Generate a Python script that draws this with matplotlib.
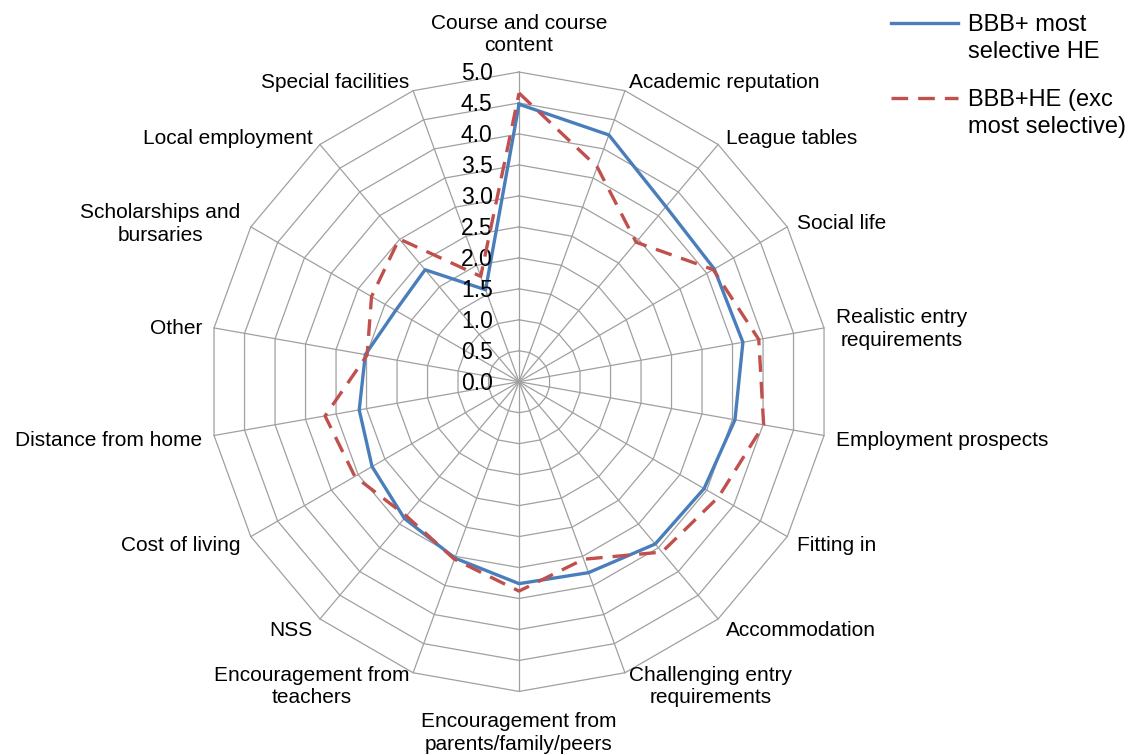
import matplotlib.pyplot as plt
import numpy as np
from matplotlib.lines import Line2D

plt.rcParams['font.family'] = ['Liberation Sans', 'DejaVu Sans']

# Factors, clockwise from the top
categories = [
    'Course and course\ncontent', 'Academic reputation', 'League tables',
    'Social life', 'Realistic entry\nrequirements', 'Employment prospects',
    'Fitting in', 'Accommodation', 'Challenging entry\nrequirements',
    'Encouragement from\nparents/family/peers', 'Encouragement from\nteachers',
    'NSS', 'Cost of living', 'Distance from home', 'Other',
    'Scholarships and\nbursaries', 'Local employment', 'Special facilities',
]
most_selective = [4.48, 4.24, 3.69, 3.64, 3.67, 3.54, 3.45, 3.42, 3.28,
                  3.26, 3.03, 2.88, 2.74, 2.62, 2.52, 2.30, 2.36, 1.58]
exc_most_selective = [4.66, 3.69, 2.94, 3.62, 3.93, 4.01, 3.72, 3.59, 3.05,
                      3.38, 3.05, 2.83, 3.06, 3.18, 2.49, 2.75, 3.01, 1.81]
rings = [0.0, 0.5, 1.0, 1.5, 2.0, 2.5, 3.0, 3.5, 4.0, 4.5, 5.0]
series_names = ['BBB+ most\nselective HE', 'BBB+HE (exc\nmost selective)']

blue = '#4A7EBB'
red = '#C0504D'
grid_col = '#a0a0a0'

n = len(categories)
theta = np.arange(n) * 2 * np.pi / n


def closed(v):
    return np.append(v, v[0])


fig = plt.figure(figsize=(11.35, 7.55), dpi=100)
ax = fig.add_axes([0.1844, 0.0842, 0.5458, 0.8204], projection='polar')
ax.set_theta_zero_location('N')
ax.set_theta_direction(-1)
ax.set_ylim(0, 5)
ax.grid(False)
ax.spines['polar'].set_visible(False)
ax.set_xticks([])
ax.set_yticks([])

# polygon web
for r in rings[1:]:
    ax.plot(closed(theta), np.full(n + 1, r), color=grid_col, lw=0.9,
            zorder=1, clip_on=False)
for t in theta:
    ax.plot([t, t], [0, 5], color=grid_col, lw=0.9, zorder=1, clip_on=False)

ax.plot(closed(theta), closed(most_selective), color=blue, lw=2.4,
        zorder=3, clip_on=False)
ax.plot(closed(theta), closed(exc_most_selective), color=red, lw=2.4,
        dashes=(5, 3), zorder=4, clip_on=False)

# radial value labels along the top spoke
for r in rings:
    ax.annotate(f'{r:.1f}', xy=(0, r), xytext=(-19, -1),
                textcoords='offset points', ha='right', va='center',
                fontsize=16.5)

# category labels just outside the outer ring
pad = 8.5
for t, lab in zip(theta, categories):
    s, c = np.sin(t), np.cos(t)
    ha = 'left' if s > 0.1 else ('right' if s < -0.1 else 'center')
    if c > 0.99:
        va, dx, dy = 'bottom', 0, 12
    elif c < -0.99:
        va, dx, dy = 'top', 0, -15
    else:
        va, dx, dy = 'center', pad * s, pad * c - 2
    ax.annotate(lab, xy=(t, 5), xytext=(dx, dy),
                textcoords='offset points', ha=ha, va=va, fontsize=15,
                multialignment='center', linespacing=1.25,
                annotation_clip=False)

# legend, key aligned with first text line
W, H = 1135, 755
for (y, col, dash), name in zip([(23, blue, None), (98, red, (5, 3))], series_names):
    ln = Line2D([891 / W, 958 / W], [1 - y / H, 1 - y / H], color=col, lw=2.4,
                transform=fig.transFigure)
    if dash:
        ln.set_dashes(dash)
    fig.add_artist(ln)
    fig.text(968 / W, 1 - (y - 9) / H, name, ha='left', va='top',
             fontsize=17, linespacing=1.3)

fig.savefig('out.png', dpi=100)
